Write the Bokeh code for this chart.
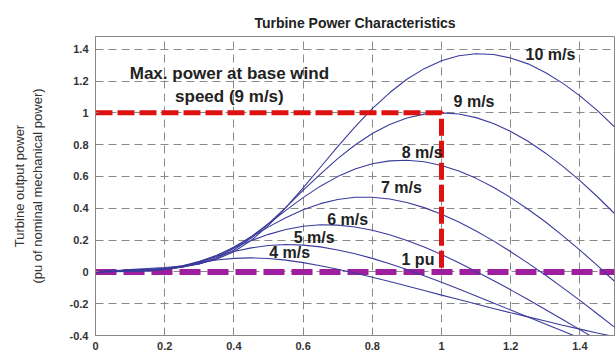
from bokeh.plotting import figure
from bokeh.models import Range1d, FixedTicker
from bokeh.core.properties import value
from bokeh.embed import file_html
from bokeh.resources import INLINE

# Turbine speed (pu of nominal generator speed)
speed_pu = [0.0, 0.05, 0.1, 0.15, 0.2, 0.25, 0.3, 0.35, 0.4, 0.45, 0.5, 0.55, 0.6, 0.65, 0.7, 0.75,
            0.8, 0.85, 0.9, 0.95, 1.0, 1.05, 1.1, 1.15, 1.2, 1.25, 1.3, 1.35, 1.4, 1.45, 1.5]

# Turbine output power (pu), one list per wind speed
p_4ms = [0.0, 0.001, 0.002, 0.006, 0.019, 0.038, 0.058, 0.075, 0.085, 0.088, 0.084, 0.074, 0.058, 0.039, 0.017, -0.007,
         -0.034, -0.061, -0.089, -0.117, -0.146, -0.174, -0.202, -0.230, -0.257, -0.283, -0.309, -0.335, -0.360, -0.384, -0.407]
p_5ms = [0.0, 0.002, 0.004, 0.007, 0.016, 0.037, 0.066, 0.099, 0.128, 0.151, 0.166, 0.172, 0.168, 0.157, 0.138, 0.114,
         0.085, 0.051, 0.015, -0.024, -0.065, -0.108, -0.151, -0.195, -0.240, -0.284, -0.328, -0.372, -0.416, -0.459, -0.502]
p_6ms = [0.0, 0.003, 0.005, 0.008, 0.015, 0.032, 0.063, 0.105, 0.152, 0.197, 0.236, 0.267, 0.287, 0.296, 0.294, 0.282,
         0.262, 0.233, 0.197, 0.156, 0.109, 0.058, 0.003, -0.054, -0.113, -0.174, -0.236, -0.299, -0.363, -0.427, -0.491]
p_7ms = [0.0, 0.004, 0.007, 0.011, 0.016, 0.029, 0.057, 0.100, 0.156, 0.219, 0.283, 0.341, 0.391, 0.429, 0.455, 0.469,
         0.469, 0.458, 0.436, 0.404, 0.362, 0.313, 0.257, 0.195, 0.127, 0.055, -0.020, -0.099, -0.179, -0.263, -0.347]
p_8ms = [0.0, 0.005, 0.009, 0.014, 0.019, 0.029, 0.052, 0.091, 0.149, 0.222, 0.303, 0.387, 0.467, 0.539, 0.599, 0.647,
         0.680, 0.698, 0.702, 0.692, 0.669, 0.634, 0.588, 0.532, 0.467, 0.394, 0.315, 0.228, 0.137, 0.041, -0.059]
p_9ms = [0.0, 0.006, 0.012, 0.017, 0.023, 0.032, 0.050, 0.084, 0.138, 0.213, 0.304, 0.406, 0.512, 0.615, 0.712, 0.798,
         0.870, 0.927, 0.968, 0.992, 1.000, 0.993, 0.970, 0.933, 0.883, 0.821, 0.748, 0.665, 0.574, 0.474, 0.367]
p_10ms = [0.0, 0.007, 0.014, 0.021, 0.028, 0.037, 0.052, 0.080, 0.127, 0.198, 0.292, 0.404, 0.528, 0.658, 0.788, 0.912,
          1.026, 1.126, 1.211, 1.278, 1.328, 1.359, 1.372, 1.367, 1.345, 1.308, 1.254, 1.187, 1.107, 1.015, 0.912]
curves = [p_4ms, p_5ms, p_6ms, p_7ms, p_8ms, p_9ms, p_10ms]

# Curve labels and their positions (data units)
curve_labels = ["4 m/s", "5 m/s", "6 m/s", "7 m/s", "8 m/s", "9 m/s", "10 m/s", "1 pu"]
label_x = [0.561, 0.632, 0.729, 0.884, 0.944, 1.094, 1.315, 0.932]
label_y = [0.12, 0.214, 0.327, 0.53, 0.75, 1.07, 1.365, 0.075]

# Base-wind-speed marker (max power 1 pu at speed 1 pu)
base_x = [0.0, 1.0, 1.0]
base_y = [1.0, 1.0, 0.0]
zero_x = [0.0, 1.5]
zero_y = [0.0, 0.0]

note_lines = ["Max. power at base wind", "speed (9 m/s)"]
note_x = [0.387, 0.387]
note_y = [1.25, 1.10]

x_ticks = [0.0, 0.2, 0.4, 0.6, 0.8, 1.0, 1.2, 1.4]
x_tick_labels = ["0", "0.2", "0.4", "0.6", "0.8", "1", "1.2", "1.4"]
y_ticks = [-0.4, -0.2, 0.0, 0.2, 0.4, 0.6, 0.8, 1.0, 1.2, 1.4]
y_tick_labels = ["-0.4", "-0.2", "0", "0.2", "0.4", "0.6", "0.8", "1", "1.2", "1.4"]

FONT = "Liberation Sans"

p = figure(width=616, height=354, output_backend="svg", toolbar_location=None,
           x_range=Range1d(0, 1.5), y_range=Range1d(-0.4, 1.48),
           min_border_left=95, min_border_right=2, min_border_top=36, min_border_bottom=19,
           background_fill_color="white", border_fill_color="white")

p.title.text = "Turbine Power Characteristics"
p.title.align = "center"
p.title.text_font = FONT
p.title.text_font_size = "14px"
p.title.text_font_style = "bold"
p.title.text_color = "#222222"
p.title.standoff = 12

p.outline_line_color = "#888888"
p.outline_line_width = 1

for ax in (p.xaxis[0], p.yaxis[0]):
    ax.axis_line_color = "#888888"
    ax.major_tick_line_color = "#888888"
    ax.major_tick_in = 3
    ax.major_tick_out = 0
    ax.minor_tick_line_color = None
    ax.major_label_text_font = FONT
    ax.major_label_text_font_size = "11px"
    ax.major_label_text_font_style = "bold"
    ax.major_label_text_color = "#333333"

p.xaxis[0].ticker = FixedTicker(ticks=x_ticks)
p.xaxis[0].major_label_overrides = dict(zip(x_ticks, x_tick_labels))
p.xaxis[0].major_label_standoff = 6
p.yaxis[0].ticker = FixedTicker(ticks=y_ticks)
p.yaxis[0].major_label_overrides = dict(zip(y_ticks, y_tick_labels))
p.yaxis[0].major_label_standoff = 7

p.yaxis[0].axis_label = "Turbine output power\n(pu of nominal mechanical power)"
p.yaxis[0].axis_label_text_font = FONT
p.yaxis[0].axis_label_text_font_size = "13px"
p.yaxis[0].axis_label_text_font_style = "normal"
p.yaxis[0].axis_label_text_color = "#333333"
p.yaxis[0].axis_label_standoff = 22

for g in (p.xgrid[0], p.ygrid[0]):
    g.grid_line_color = "#8a8a8a"
    g.grid_line_dash = "8 5"
    g.grid_line_width = 1

p.line(zero_x, zero_y, line_color="#9e1f9e", line_width=6, line_dash="21 7")

for c in curves:
    p.line(speed_pu, c, line_color="#3b3b9c", line_width=1.1)

p.line(base_x, base_y, line_color="#dd1111", line_width=5, line_dash="17 5")

p.text(x=note_x, y=note_y, text=note_lines, text_font=value(FONT), text_font_style="bold",
       text_font_size="17px", text_align="center", text_baseline="middle", text_color="#222222")
p.text(x=label_x, y=label_y, text=curve_labels, text_font=value(FONT), text_font_style="bold",
       text_font_size="16px", text_align="center", text_baseline="middle", text_color="#222222")

open("out.html", "w").write(file_html(p, INLINE))
